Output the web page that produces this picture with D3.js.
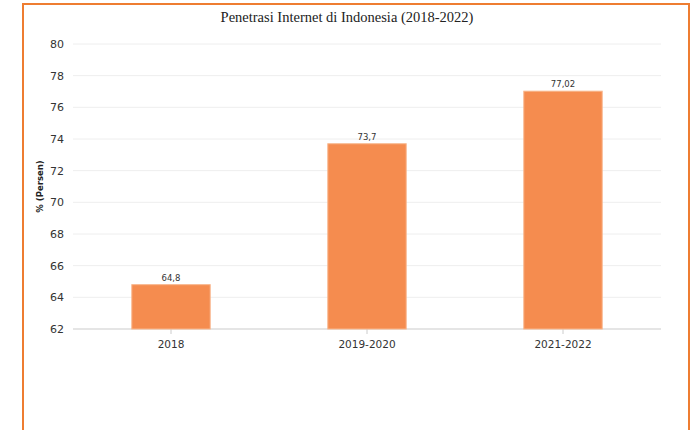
<!DOCTYPE html>
<html>
<head>
<meta charset="utf-8">
<script src="https://cdn.jsdelivr.net/npm/d3@7"></script>
<style>
  html, body { margin: 0; padding: 0; background: #fff; }
  svg { display: block; }
</style>
</head>
<body>
<svg id="chart" width="693" height="430"></svg>
<script>
// Internet penetration in Indonesia, percent of population
const categories = ["2018", "2019-2020", "2021-2022"];
const values = [64.8, 73.7, 77.02];
const valueLabels = ["64,8", "73,7", "77,02"];
const yTicks = [62, 64, 66, 68, 70, 72, 74, 76, 78, 80];

const svg = d3.select("#chart");
const W = 693, H = 430;
const margin = { left: 73, right: 32, top: 44, bottom: 101 };
const innerW = W - margin.left - margin.right;
const innerH = H - margin.top - margin.bottom;

// orange frame around the figure (runs off the bottom edge)
svg.append("rect")
  .attr("x", 23).attr("y", 4)
  .attr("width", 666).attr("height", 440)
  .attr("fill", "none")
  .attr("stroke", "#ee7d31")
  .attr("stroke-width", 2);

svg.append("text")
  .attr("x", 347).attr("y", 22)
  .attr("text-anchor", "middle")
  .attr("font-family", "'Liberation Serif', 'Times New Roman', serif")
  .attr("font-size", 14.5)
  .attr("fill", "#222")
  .text("Penetrasi Internet di Indonesia (2018-2022)");

const g = svg.append("g").attr("transform", `translate(${margin.left},${margin.top})`);

const x = d3.scaleBand().domain(categories).range([0, innerW]).paddingInner(0.6).paddingOuter(0.3);
const y = d3.scaleLinear().domain([62, 80]).range([innerH, 0]);

// horizontal gridlines
g.append("g")
  .selectAll("line")
  .data(yTicks)
  .join("line")
  .attr("x1", 0).attr("x2", innerW)
  .attr("y1", d => y(d)).attr("y2", d => y(d))
  .attr("stroke", d => d === 62 ? "#dcdcdc" : "#eeeeee")
  .attr("stroke-width", d => d === 62 ? 1.5 : 1);

// y axis labels
const yAxis = g.append("g")
  .call(d3.axisLeft(y).tickValues(yTicks).tickSize(0).tickPadding(9).tickFormat(d3.format("d")));
yAxis.select(".domain").remove();
yAxis.selectAll("text")
  .attr("font-family", "'DejaVu Sans', Verdana, sans-serif")
  .attr("font-size", 11)
  .attr("fill", "#333");

// x axis
const xAxis = g.append("g")
  .attr("transform", `translate(0,${innerH})`)
  .call(d3.axisBottom(x).tickSize(5).tickPadding(7));
xAxis.select(".domain").remove();
xAxis.selectAll("line").attr("stroke", "#cccccc");
xAxis.selectAll("text")
  .attr("font-family", "'DejaVu Sans', Verdana, sans-serif")
  .attr("font-size", 10.5)
  .attr("fill", "#333");

// bars
g.append("g")
  .selectAll("rect")
  .data(values)
  .join("rect")
  .attr("x", (d, i) => x(categories[i]))
  .attr("y", d => y(d))
  .attr("width", x.bandwidth())
  .attr("height", d => innerH - y(d))
  .attr("fill", "#f58c4f")
  .attr("stroke", "#f8b68c")
  .attr("stroke-width", 1);

// value labels
g.append("g")
  .selectAll("text")
  .data(values)
  .join("text")
  .attr("x", (d, i) => x(categories[i]) + x.bandwidth() / 2)
  .attr("y", d => y(d) - 4)
  .attr("text-anchor", "middle")
  .attr("font-family", "'DejaVu Sans', Verdana, sans-serif")
  .attr("font-size", 8.5)
  .attr("fill", "#333")
  .text((d, i) => valueLabels[i]);

// y axis title
svg.append("text")
  .attr("transform", `translate(43,${margin.top + innerH / 2}) rotate(-90)`)
  .attr("text-anchor", "middle")
  .attr("font-family", "'DejaVu Sans', Verdana, sans-serif")
  .attr("font-weight", "bold")
  .attr("font-size", 8.5)
  .attr("fill", "#222")
  .text("% (Persen)");
</script>
</body>
</html>
